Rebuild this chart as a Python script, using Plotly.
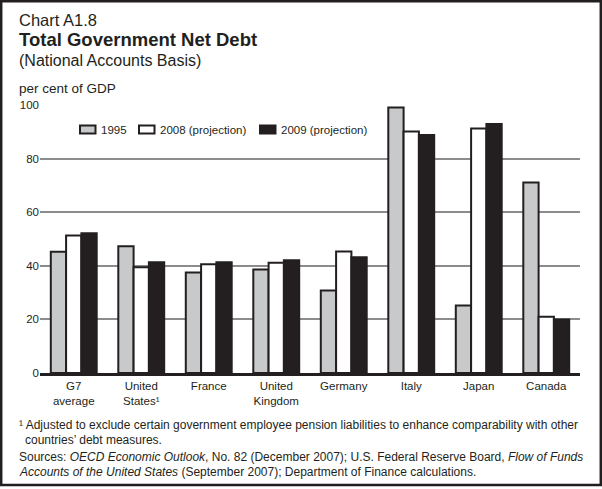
import plotly.graph_objects as go

categories = ["G7<br>average", "United<br>States¹", "France", "United<br>Kingdom",
              "Germany", "Italy", "Japan", "Canada"]
series_names = ["1995", "2008 (projection)", "2009 (projection)"]
v1995 = [45.2, 47.3, 37.5, 38.6, 30.8, 99.1, 25.2, 71.1]
v2008 = [51.3, 39.5, 40.6, 41.1, 45.3, 90.1, 91.2, 21.0]
v2009 = [52.1, 41.3, 41.3, 42.1, 43.2, 88.8, 92.9, 20.0]
series_values = [v1995, v2008, v2009]
colors = ["#c8c9cb", "#ffffff", "#231f20"]
y_ticks = [0, 20, 40, 60, 80, 100]

W, H = 602, 489
L, R, T, B = 40, 22, 105, 116
PW, PH = W - L - R, H - T - B
FONT = "Liberation Sans, Arial, sans-serif"
INK = "#231f20"

def px(x):
    return (x - L) / PW

def py(y):
    return 1 - (y - T) / PH

fig = go.Figure()
for name, vals, col in zip(series_names, series_values, colors):
    fig.add_trace(go.Bar(x=categories, y=vals, name=name, showlegend=False,
                         marker=dict(color=col, line=dict(color=INK, width=2))))

fig.update_layout(
    width=W, height=H,
    margin=dict(l=L, r=R, t=T, b=B),
    paper_bgcolor="white", plot_bgcolor="white",
    barmode="group", bargap=0.32, bargroupgap=0,
    font=dict(family=FONT, size=11, color=INK),
    xaxis=dict(showline=True, linecolor=INK, linewidth=3, showgrid=False,
               ticks="", tickfont=dict(size=11.5, color=INK), fixedrange=True),
    yaxis=dict(range=[0, 100], tickvals=y_ticks, showgrid=True, gridcolor="#8c8c8c",
               gridwidth=2, zeroline=False, showline=False, ticks="",
               tickfont=dict(size=11.5, color=INK), fixedrange=True),
)

# Manual legend
legend_x = [79, 138, 259]
shapes = []
annotations = []
for name, col, lx in zip(series_names, colors, legend_x):
    shapes.append(dict(type="rect", xref="paper", yref="paper",
                       x0=px(lx + 1), x1=px(lx + 16.5), y0=py(133.5), y1=py(125.5),
                       fillcolor=col, line=dict(color=INK, width=2)))
    annotations.append(dict(text=name, xref="paper", yref="paper", x=px(lx + 20),
                            y=py(129.5), xanchor="left", yanchor="middle",
                            showarrow=False, font=dict(size=11.5, color=INK)))

# Border frame
shapes.append(dict(type="rect", xref="paper", yref="paper",
                   x0=px(1.2), x1=px(W - 1.2), y0=py(H - 4), y1=py(1.2),
                   line=dict(color=INK, width=2.5), fillcolor="rgba(0,0,0,0)"))

texts = [
    ("Chart A1.8", 17, 20, 16.5),
    ("<b>Total Government Net Debt</b>", 17, 40, 18.5),
    ("(National Accounts Basis)", 17, 61, 16),
    ("per cent of GDP", 17, 88, 13.5),
    ("¹ Adjusted to exclude certain government employee pension liabilities to enhance comparability with other", 17, 425, 12),
    ("countries’ debt measures.", 23, 440, 12),
    ("Sources: <i>OECD Economic Outlook</i>, No. 82 (December 2007); U.S. Federal Reserve Board, <i>Flow of Funds</i>", 17, 457, 12),
    ("<i>Accounts of the United States</i> (September 2007); Department of Finance calculations.", 17, 472, 12),
]
for txt, x, y, size in texts:
    annotations.append(dict(text=txt, xref="paper", yref="paper", x=px(x), y=py(y),
                            xanchor="left", yanchor="middle", showarrow=False,
                            font=dict(size=size, color=INK)))

fig.update_layout(shapes=shapes, annotations=annotations)
fig.write_html("out.html", config={"displayModeBar": False},
               post_script="document.body.style.margin='0';document.body.style.overflow='hidden';")
